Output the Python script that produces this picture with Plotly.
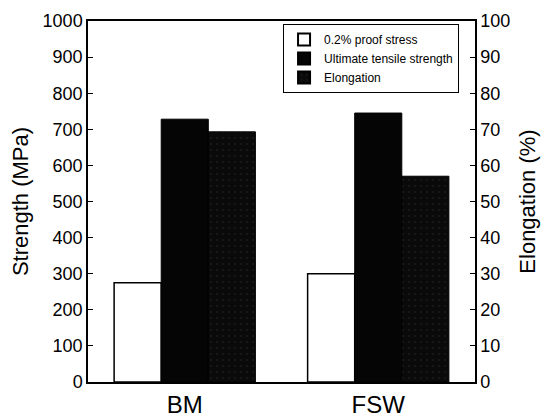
import plotly.graph_objects as go

categories = ["BM", "FSW"]
proof_stress = [275, 300]          # MPa
uts = [728, 745]                   # MPa
elongation = [69.3, 57.0]          # %

font_family = "Liberation Sans, Arial, sans-serif"

fig = go.Figure()
fig.add_trace(go.Bar(
    x=categories, y=proof_stress, name="0.2% proof stress",
    marker=dict(color="white", line=dict(color="black", width=1.5)),
    offsetgroup="a", yaxis="y",
))
fig.add_trace(go.Bar(
    x=categories, y=uts, name="Ultimate tensile strength",
    marker=dict(color="#050505", line=dict(color="black", width=1)),
    offsetgroup="b", yaxis="y",
))
fig.add_trace(go.Bar(
    x=categories, y=elongation, name="Elongation",
    marker=dict(color="#0a0a0a", line=dict(color="black", width=1),
                pattern=dict(shape=".", fgcolor="#2a2a2a", bgcolor="#0a0a0a", size=6, solidity=0.1)),
    offsetgroup="c", yaxis="y2",
))

fig.update_layout(
    width=549, height=417,
    margin=dict(l=88, r=74, t=21, b=35, autoexpand=False),
    paper_bgcolor="white", plot_bgcolor="white",
    barmode="group", bargap=0.27, bargroupgap=0,
    font=dict(family=font_family, color="black"),
    showlegend=True,
    legend=dict(
        x=0.504, y=0.992, xanchor="left", yanchor="top",
        bgcolor="white", bordercolor="black", borderwidth=1,
        font=dict(size=12, family=font_family, color="black"),
        itemsizing="constant", tracegroupgap=0, itemwidth=30,
    ),
    xaxis=dict(
        range=[-0.5, 1.5], showline=True, linecolor="black", linewidth=1.5,
        mirror=True, ticks="", tickfont=dict(size=24, family=font_family, color="black"),
        showgrid=False, zeroline=False, automargin=False,
    ),
    yaxis=dict(
        range=[0, 1000], dtick=100, showline=True, linecolor="black", linewidth=1.5,
        ticks="inside", ticklen=5, tickcolor="black",
        tickfont=dict(size=18, family=font_family, color="black"),
        title=dict(text="Strength (MPa)", font=dict(size=22, family=font_family, color="black"), standoff=8),
        showgrid=False, zeroline=False, automargin=False,
    ),
    yaxis2=dict(
        range=[0, 100], dtick=10, overlaying="y", side="right",
        showline=True, linecolor="black", linewidth=1.5,
        ticks="inside", ticklen=5, tickcolor="black",
        tickfont=dict(size=18, family=font_family, color="black"),
        title=dict(text="Elongation (%)", font=dict(size=22, family=font_family, color="black"), standoff=10),
        showgrid=False, zeroline=False, automargin=False,
    ),
)

fig.write_html("out.html", config={"displayModeBar": False},
               post_script="document.body.style.margin='0';")
